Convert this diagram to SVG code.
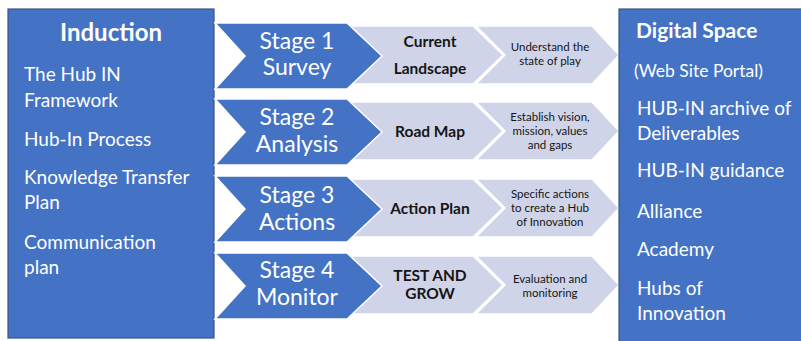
<svg xmlns="http://www.w3.org/2000/svg" width="801" height="341" viewBox="0 0 801 341">
  <style>
    .panel { fill: #4472C4; stroke: #3B5683; stroke-width: 1.2; }
    .stage { fill: #4472C4; stroke: #FFFFFF; stroke-width: 1.5; stroke-linejoin: miter; }
    .step { fill: #CFD4E9; stroke: #FFFFFF; stroke-width: 1.5; stroke-linejoin: miter; }
    text { font-family: Lato, "Liberation Sans", sans-serif; }
    .head { fill: #FFFFFF; font-weight: bold; }
    .item { fill: #FFFFFF; font-size: 19px; }
    .sub { fill: #FFFFFF; font-size: 17.5px; }
    .stg { fill: #FFFFFF; font-size: 23px; text-anchor: middle; }
    .mid { fill: #151515; font-weight: bold; font-size: 15.5px; text-anchor: middle; }
    .note { fill: #151515; font-size: 11.5px; text-anchor: middle; }
  </style>

  <rect width="801" height="341" fill="#FFFFFF"/>

  <!-- left panel -->
  <g id="induction">
    <rect class="panel" x="8" y="9" width="206" height="329"/>
    <text class="head" x="111" y="40.5" font-size="24" text-anchor="middle">Induction</text>
    <text class="item" x="24" y="81">The Hub IN</text>
    <text class="item" x="24" y="107">Framework</text>
    <text class="item" x="24" y="146">Hub-In Process</text>
    <text class="item" x="24" y="184">Knowledge Transfer</text>
    <text class="item" x="24" y="209">Plan</text>
    <text class="item" x="24" y="249">Communication</text>
    <text class="item" x="24" y="274">plan</text>
  </g>

  <!-- process rows: step 3, step 2, then the stage chevron on top -->
  <g id="row1">
    <polygon class="step" points="476,26 592,26 619,55 592,84 476,84 505,55"/>
    <polygon class="step" points="348,26 473,26 503,55 473,84 348,84 377,55"/>
    <polygon class="stage" points="215,23 347,23 382,56 347,89 215,89 245,56"/>
    <text class="stg" x="297" y="49">Stage 1</text>
    <text class="stg" x="297" y="75">Survey</text>
    <text class="mid" x="430" y="47">Current</text>
    <text class="mid" x="430" y="73.5">Landscape</text>
    <text class="note" x="550" y="51">Understand the</text>
    <text class="note" x="550" y="65">state of play</text>
  </g>

  <g id="row2">
    <polygon class="step" points="476,102 592,102 619,131 592,160 476,160 505,131"/>
    <polygon class="step" points="348,102 473,102 503,131 473,160 348,160 377,131"/>
    <polygon class="stage" points="215,99 347,99 382,132 347,165 215,165 245,132"/>
    <text class="stg" x="297" y="125">Stage 2</text>
    <text class="stg" x="297" y="151.5">Analysis</text>
    <text class="mid" x="430" y="137">Road Map</text>
    <text class="note" x="550" y="121">Establish vision,</text>
    <text class="note" x="550" y="135">mission, values</text>
    <text class="note" x="550" y="149">and gaps</text>
  </g>

  <g id="row3">
    <polygon class="step" points="476,179 592,179 619,208 592,237 476,237 505,208"/>
    <polygon class="step" points="348,179 473,179 503,208 473,237 348,237 377,208"/>
    <polygon class="stage" points="215,176 347,176 382,209 347,242 215,242 245,209"/>
    <text class="stg" x="297" y="203">Stage 3</text>
    <text class="stg" x="297" y="229.5">Actions</text>
    <text class="mid" x="430" y="213.5">Action Plan</text>
    <text class="note" x="550" y="198">Specific actions</text>
    <text class="note" x="550" y="212">to create a Hub</text>
    <text class="note" x="550" y="226">of Innovation</text>
  </g>

  <g id="row4">
    <polygon class="step" points="476,256 592,256 619,285 592,314 476,314 505,285"/>
    <polygon class="step" points="348,256 473,256 503,285 473,314 348,314 377,285"/>
    <polygon class="stage" points="215,253 347,253 382,286 347,319 215,319 245,286"/>
    <text class="stg" x="297" y="278">Stage 4</text>
    <text class="stg" x="297" y="305">Monitor</text>
    <text class="mid" x="430" y="280.5">TEST AND</text>
    <text class="mid" x="430" y="299">GROW</text>
    <text class="note" x="550" y="283">Evaluation and</text>
    <text class="note" x="550" y="297">monitoring</text>
  </g>

  <!-- right panel -->
  <g id="digital-space">
    <rect class="panel" x="619" y="9" width="190" height="340"/>
    <text class="head" x="636" y="38" font-size="21">Digital Space</text>
    <text class="sub" x="634" y="77">(Web Site Portal)</text>
    <text class="item" x="637" y="115">HUB-IN archive of</text>
    <text class="item" x="637" y="139.5">Deliverables</text>
    <text class="item" x="637" y="177">HUB-IN guidance</text>
    <text class="item" x="637" y="218">Alliance</text>
    <text class="item" x="637" y="256">Academy</text>
    <text class="item" x="637" y="295">Hubs of</text>
    <text class="item" x="637" y="320">Innovation</text>
  </g>
</svg>
